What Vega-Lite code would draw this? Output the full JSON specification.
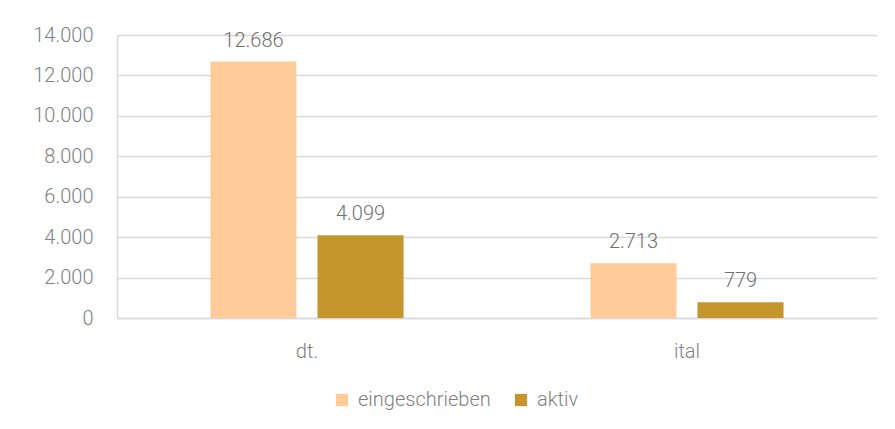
{
  "$schema": "https://vega.github.io/schema/vega-lite/v6.json",
  "autosize": "none",
  "width": 760,
  "height": 283,
  "padding": {"left": 117, "top": 35, "right": 18, "bottom": 111},
  "background": "white",
  "config": {
    "view": {"stroke": null},
    "font": "Roboto",
    "locale": {"number": {"decimal": ",", "thousands": ".", "grouping": [3], "currency": ["", " €"]}},
    "axis": {"labelFont": "Roboto", "labelFontWeight": 300, "labelColor": "#7f7f7f", "labelFontSize": 20}
  },
  "data": {
    "values": [
      {"sprache": "dt.", "serie": "eingeschrieben", "wert": 12686},
      {"sprache": "dt.", "serie": "aktiv", "wert": 4099},
      {"sprache": "ital", "serie": "eingeschrieben", "wert": 2713},
      {"sprache": "ital", "serie": "aktiv", "wert": 779}
    ]
  },
  "encoding": {
    "x": {
      "field": "sprache", "type": "nominal", "sort": ["dt.", "ital"],
      "scale": {"paddingInner": 0, "paddingOuter": 0},
      "axis": {"title": null, "labelAngle": 0, "ticks": false, "domainColor": "#d9d9d9", "domainWidth": 1.5, "labelPadding": 23}
    },
    "xOffset": {
      "field": "serie", "type": "nominal", "sort": ["eingeschrieben", "aktiv"],
      "scale": {"paddingInner": 0.196, "paddingOuter": 0.873}
    },
    "y": {
      "field": "wert", "type": "quantitative",
      "scale": {"domain": [0, 14000], "nice": false},
      "axis": {"title": null, "values": [0, 2000, 4000, 6000, 8000, 10000, 12000, 14000], "format": ",.0f", "ticks": false, "domainColor": "#d9d9d9", "domainWidth": 1.5, "gridColor": "#d9d9d9", "gridWidth": 1.5, "labelPadding": 24}
    }
  },
  "layer": [
    {
      "mark": {"type": "bar"},
      "encoding": {
        "color": {
          "field": "serie", "type": "nominal",
          "scale": {"domain": ["eingeschrieben", "aktiv"], "range": ["#ffcc99", "#c4962c"]},
          "legend": {
            "orient": "none", "direction": "horizontal", "legendX": 215, "legendY": 355,
            "title": null, "symbolType": "square", "symbolSize": 150, "symbolStrokeWidth": 0,
            "labelFont": "Roboto", "labelFontWeight": 300, "labelFontSize": 20, "labelColor": "#7f7f7f",
            "columnPadding": 20, "labelOffset": 6
          }
        }
      }
    },
    {
      "mark": {"type": "text", "baseline": "bottom", "dy": -11, "font": "Roboto", "fontWeight": 300, "fontSize": 20, "color": "#6f6f6f"},
      "encoding": {
        "text": {"field": "wert", "type": "quantitative", "format": ",.0f"}
      }
    }
  ]
}
